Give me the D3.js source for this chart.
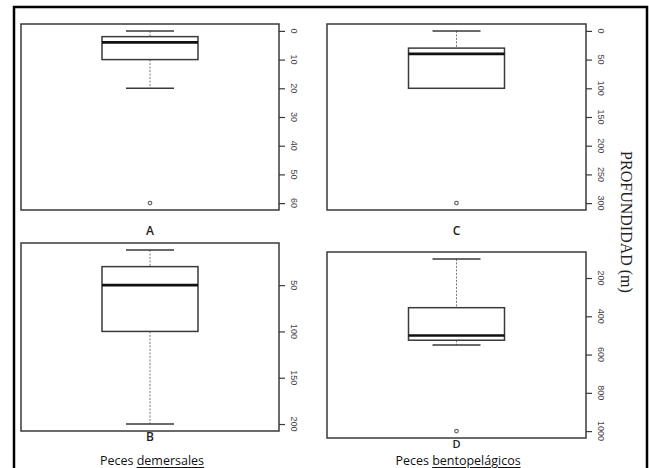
<!DOCTYPE html>
<html>
<head>
<meta charset="utf-8">
<script src="https://cdn.jsdelivr.net/npm/d3@7"></script>
<style>
	body { margin: 0; background: #fff; }
	svg { display: block; }
</style>
</head>
<body>
<script>
// Boxplot stats (depth, m)
const panelLabels = ["A", "C", "B", "D"];
const whiskerLow = [0, 0, 12, 100];
const q1 = [2, 30, 30, 355];
const median = [4, 40, 50, 500];
const q3 = [10, 100, 100, 525];
const whiskerHigh = [20, 100, 200, 550];
const outliers = [[60], [300], [], [1000]];
const tickValues = [
	[0, 10, 20, 30, 40, 50, 60],
	[0, 50, 100, 150, 200, 250, 300],
	[50, 100, 150, 200],
	[200, 400, 600, 800, 1000]
];
const groupTitles = ["Peces ", "demersales", "Peces ", "bentopelágicos"];
const axisTitle = "PROFUNDIDAD (m)";

// panel frames (pixels)
const frames = [
	{ x0: 21, x1: 279, y0: 24, y1: 210 },
	{ x0: 327, x1: 586, y0: 24, y1: 210 },
	{ x0: 21, x1: 279, y0: 243, y1: 431 },
	{ x0: 327, x1: 586, y0: 252, y1: 438 }
];

const width = 649, height = 468;
const svg = d3.select("body").append("svg")
	.attr("width", width)
	.attr("height", height);

// outer black frame
svg.append("path")
	.attr("d", `M14,${height + 2}V7H647V${height + 2}`)
	.attr("fill", "none")
	.attr("stroke", "#000")
	.attr("stroke-width", 2.5);

const lineColor = "#3a3a3a";

frames.forEach((f, i) => {
	const allVals = [whiskerLow[i], whiskerHigh[i], ...outliers[i]];
	const [lo, hi] = d3.extent(allVals);
	const pad = (hi - lo) * 0.04; // R style axis extension
	const y = d3.scaleLinear()
		.domain([lo - pad, hi + pad])
		.range([f.y0, f.y1]);

	const g = svg.append("g");
	const cx = (f.x0 + f.x1) / 2;
	const boxW = 96, capW = 48;

	g.append("rect")
		.attr("x", f.x0).attr("y", f.y0)
		.attr("width", f.x1 - f.x0).attr("height", f.y1 - f.y0)
		.attr("fill", "none")
		.attr("stroke", lineColor)
		.attr("stroke-width", 1.5);

	// right axis, ticks only; labels drawn rotated below
	const axis = d3.axisRight(y)
		.tickValues(tickValues[i])
		.tickSize(6)
		.tickFormat("");
	const ax = g.append("g")
		.attr("transform", `translate(${f.x1},0)`)
		.call(axis);
	ax.select(".domain").remove();
	ax.selectAll(".tick line").attr("stroke", lineColor).attr("stroke-width", 1.2);

	g.selectAll(".tlab")
		.data(tickValues[i])
		.join("text")
		.attr("class", "tlab")
		.attr("transform", d => `translate(${f.x1 + 15},${y(d)}) rotate(90)`)
		.attr("text-anchor", "middle")
		.attr("dominant-baseline", "central")
		.attr("fill", "#444")
		.style("font-family", "Liberation Sans, Arial, sans-serif")
		.style("font-size", "9px")
		.text(d => d);

	// whiskers (dashed)
	g.append("line")
		.attr("x1", cx).attr("x2", cx)
		.attr("y1", y(whiskerLow[i])).attr("y2", y(q1[i]))
		.attr("stroke", "#777").attr("stroke-dasharray", "2,1.5");
	g.append("line")
		.attr("x1", cx).attr("x2", cx)
		.attr("y1", y(q3[i])).attr("y2", y(whiskerHigh[i]))
		.attr("stroke", "#777").attr("stroke-dasharray", "2,1.5");

	// caps
	[whiskerLow[i], whiskerHigh[i]].forEach(v => {
		if (v === q1[i] || v === q3[i]) return;
		g.append("line")
			.attr("x1", cx - capW / 2).attr("x2", cx + capW / 2)
			.attr("y1", y(v)).attr("y2", y(v))
			.attr("stroke", lineColor).attr("stroke-width", 1.5);
	});

	// box
	g.append("rect")
		.attr("x", cx - boxW / 2).attr("y", y(q1[i]))
		.attr("width", boxW).attr("height", y(q3[i]) - y(q1[i]))
		.attr("fill", "#fff")
		.attr("stroke", lineColor)
		.attr("stroke-width", 1.5);

	g.append("line")
		.attr("x1", cx - boxW / 2).attr("x2", cx + boxW / 2)
		.attr("y1", y(median[i])).attr("y2", y(median[i]))
		.attr("stroke", "#111").attr("stroke-width", 2.6);

	g.selectAll(".out")
		.data(outliers[i])
		.join("circle")
		.attr("cx", cx).attr("cy", d => y(d))
		.attr("r", 1.8)
		.attr("fill", "none")
		.attr("stroke", "#666")
		.attr("stroke-width", 1.2);

	// panel letter
	g.append("text")
		.attr("x", cx)
		.attr("y", i < 2 ? 230 : f.y1 + 5)
		.attr("text-anchor", "middle")
		.attr("dominant-baseline", "central")
		.style("font-family", "Open Sans, Liberation Sans, sans-serif")
		.style("font-size", i === 3 ? "11px" : "12px")
		.style("font-weight", "600")
		.attr("fill", "#222")
		.text(panelLabels[i]);
});

// group titles below the bottom panels
[[0, 152], [1, 458]].forEach(([k, x]) => {
	const t = svg.append("text")
		.attr("x", x)
		.attr("y", 460)
		.attr("text-anchor", "middle")
		.attr("dominant-baseline", "central")
		.style("font-family", "Open Sans, Liberation Sans, sans-serif")
		.style("font-size", "12.5px")
		.attr("fill", "#111");
	t.append("tspan").text(groupTitles[k * 2]);
	t.append("tspan")
		.attr("text-decoration", "underline")
		.text(groupTitles[k * 2 + 1]);
});

svg.append("text")
	.attr("transform", "translate(626,222) rotate(90)")
	.attr("text-anchor", "middle")
	.attr("dominant-baseline", "central")
	.style("font-family", "Liberation Serif, Times New Roman, serif")
	.style("font-size", "16px")
	.attr("fill", "#222")
	.text(axisTitle);
</script>
</body>
</html>
